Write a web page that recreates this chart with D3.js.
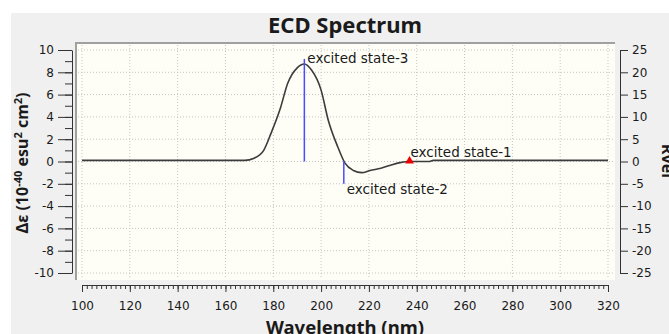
<!DOCTYPE html>
<html>
<head>
<meta charset="utf-8">
<script src="https://cdn.jsdelivr.net/npm/d3@7"></script>
<style>
  body { margin: 0; background: #fff; }
  text { font-family: "DejaVu Sans", sans-serif; fill: #1a1a1a; }
  .title { font-family: "Noto Sans", sans-serif; font-weight: bold; }
</style>
</head>
<body>
<div id="chart"></div>
<script>
// spectrum curve (nm, delta epsilon)
const wavelengths = [100, 168, 172, 176, 179, 183, 186, 190, 193, 196, 200, 203, 207, 210, 213.5, 217, 220.5, 225, 229, 233, 237, 245, 247, 320];
const deltaEps = [0.1, 0.1, 0.3, 1.0, 2.5, 4.8, 7.0, 8.4, 8.75, 8.2, 6.4, 3.7, 1.3, -0.15, -0.8, -1.0, -0.8, -0.6, -0.33, -0.1, 0.0, 0.0, 0.1, 0.1];

// excited states (nm, Rvel)
const stateNames = ['excited state-1', 'excited state-2', 'excited state-3'];
const stateNm = [237, 209.5, 193];
const stateRvel = [0, -5, 23];

const xTicks = [100, 120, 140, 160, 180, 200, 220, 240, 260, 280, 300, 320];
const yTicks = [-10, -8, -6, -4, -2, 0, 2, 4, 6, 8, 10];
const rTicks = [-25, -20, -15, -10, -5, 0, 5, 10, 15, 20, 25];

const W = 669, H = 334;
const svg = d3.select('#chart').append('svg')
  .attr('width', W)
  .attr('height', H);

// grey panel
svg.append('rect').attr('x', 11).attr('y', 13).attr('width', W - 11).attr('height', H - 13).attr('fill', '#f0f0f0');

const x = d3.scaleLinear().domain([100, 320]).range([82, 608]);
const y = d3.scaleLinear().domain([-10, 10]).range([273, 50]);
const yR = d3.scaleLinear().domain([-25, 25]).range([273, 50]);

// plot area
svg.append('rect').attr('x', 76).attr('y', 43).attr('width', 539).attr('height', 237).attr('fill', '#fefef7');
svg.append('path').attr('d', 'M76,280V43H615').attr('fill', 'none').attr('stroke', '#a0a0a0').attr('stroke-width', 2);

// grid
svg.append('g').selectAll('line').data(xTicks).enter().append('line')
  .attr('x1', d => x(d)).attr('x2', d => x(d))
  .attr('y1', 45).attr('y2', 279)
  .attr('stroke', '#c4c4c4').attr('stroke-dasharray', '1,2');
svg.append('g').selectAll('line').data(yTicks).enter().append('line')
  .attr('y1', d => y(d)).attr('y2', d => y(d))
  .attr('x1', 78).attr('x2', 614)
  .attr('stroke', '#c4c4c4').attr('stroke-dasharray', '1,2');

const fmt = d => String(d);

// left axis
const leftAxis = svg.append('g').attr('transform', 'translate(72,0)');
leftAxis.call(d3.axisLeft(y).ticks(20).tickSize(7).tickFormat(''));
leftAxis.call(g => g.select('.domain').remove());
const leftMajor = svg.append('g').attr('transform', 'translate(72,0)')
  .call(d3.axisLeft(y).tickValues(yTicks).tickSize(14).tickPadding(4).tickSizeOuter(0).tickFormat(fmt));
svg.selectAll('g.tick line').attr('stroke', '#333');
leftMajor.select('.domain').attr('stroke', '#333');

// right axis
const rightAxis = svg.append('g').attr('transform', 'translate(620,0)')
  .call(d3.axisRight(yR).tickValues(rTicks).tickSize(8).tickPadding(4).tickSizeOuter(0).tickFormat(fmt));
rightAxis.selectAll('line').attr('stroke', '#333');
rightAxis.select('.domain').attr('stroke', '#333');

// bottom axis
const minorX = d3.range(100, 321, 2);
const bottomMinor = svg.append('g').attr('transform', 'translate(0,285)')
  .call(d3.axisBottom(x).tickValues(minorX).tickSize(4).tickFormat(''));
bottomMinor.select('.domain').remove();
bottomMinor.selectAll('line').attr('stroke', '#333');
const bottomAxis = svg.append('g').attr('transform', 'translate(0,285)')
  .call(d3.axisBottom(x).tickValues(xTicks).tickSize(7).tickPadding(9).tickSizeOuter(0).tickFormat(fmt));
bottomAxis.selectAll('line').attr('stroke', '#333');
bottomAxis.select('.domain').attr('stroke', '#333');

svg.selectAll('.tick text').style('font-size', '12px').style('font-family', '"DejaVu Sans", sans-serif').attr('fill', '#1a1a1a');

// curve
const pts = wavelengths.map((w, i) => [w, deltaEps[i]]);
svg.append('path')
  .datum(pts)
  .attr('d', d3.line().x(d => x(d[0])).y(d => y(d[1])).curve(d3.curveMonotoneX))
  .attr('fill', 'none')
  .attr('stroke', '#3c3c3c')
  .attr('stroke-width', 1.6);

// sticks
stateNm.forEach((w, i) => {
  if (i === 0) {
    svg.append('path')
      .attr('d', d3.symbol().type(d3.symbolTriangle).size(34)())
      .attr('transform', `translate(${x(w)},${yR(stateRvel[i]) - 0.5})`)
      .attr('fill', '#ee0000');
  } else {
    svg.append('line')
      .attr('x1', x(w)).attr('x2', x(w))
      .attr('y1', yR(0)).attr('y2', yR(stateRvel[i]))
      .attr('stroke', '#4a4aff').attr('stroke-width', 1.5);
  }
});

// state labels
const labelOffsets = [[1, -5], [3, 10], [3, 4]];
stateNames.forEach((s, i) => {
  svg.append('text')
    .attr('x', x(stateNm[i]) + labelOffsets[i][0])
    .attr('y', yR(stateRvel[i]) + labelOffsets[i][1])
    .style('font-size', '13.5px')
    .text(s);
});

// titles
svg.append('text').attr('class', 'title')
  .attr('x', 345).attr('y', 33)
  .attr('text-anchor', 'middle')
  .style('font-size', '22px')
  .text('ECD Spectrum');

svg.append('text').attr('class', 'title')
  .attr('x', 345).attr('y', 334)
  .attr('text-anchor', 'middle')
  .style('font-size', '18.5px')
  .text('Wavelength (nm)');

const yTitle = svg.append('text').attr('class', 'title')
  .attr('transform', 'translate(28,163) rotate(-90)')
  .attr('text-anchor', 'middle')
  .style('font-size', '16px');
yTitle.append('tspan').text('Δε (10');
yTitle.append('tspan').attr('dy', -6).style('font-size', '11px').text('-40');
yTitle.append('tspan').attr('dy', 6).text(' esu');
yTitle.append('tspan').attr('dy', -6).style('font-size', '11px').text('2');
yTitle.append('tspan').attr('dy', 6).text(' cm');
yTitle.append('tspan').attr('dy', -6).style('font-size', '11px').text('2');
yTitle.append('tspan').attr('dy', 6).text(')');

svg.append('text').attr('class', 'title')
  .attr('transform', 'translate(662,161) rotate(90)')
  .attr('text-anchor', 'middle')
  .style('font-size', '16px')
  .text('Rvel');
</script>
</body>
</html>
